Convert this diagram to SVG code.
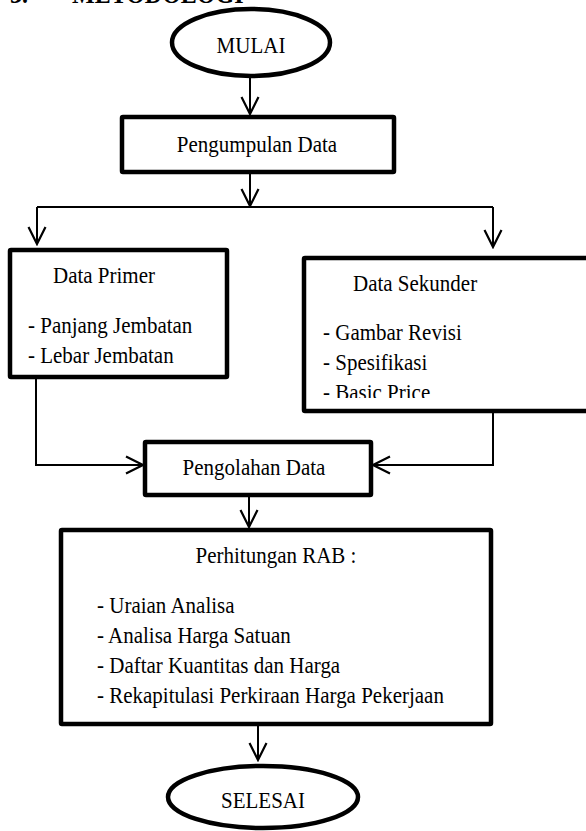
<svg xmlns="http://www.w3.org/2000/svg" width="586" height="831" viewBox="0 0 586 831">
<defs>
<style>
.bg{fill:#fff}
.node{fill:#fff;stroke:#000;stroke-width:4.5}
.c{text-anchor:middle}
.conn{fill:none;stroke:#000;stroke-width:2}
</style>
<marker id="arr" viewBox="-20 -11 22 22" markerWidth="22" markerHeight="22" refX="0" refY="0" markerUnits="userSpaceOnUse" orient="auto">
<path d="M-17,-8.5 L0,0 L-17,8.5" fill="none" stroke="#000" stroke-width="2.2"/>
</marker>
<clipPath id="clipSek"><rect x="304" y="258" width="300" height="140"/></clipPath>
</defs>
<rect class="bg" x="0" y="0" width="586" height="831"/>
<g font-family="Liberation Serif, Times New Roman, serif" font-size="24" font-weight="bold" fill="#000">
<text transform="translate(10,3) scale(1,1.12)">3.</text>
<text transform="translate(72,3) scale(1,1.12)">METODOLOGI</text>
</g>

<g id="connectors">
<line class="conn" x1="250" y1="78" x2="250" y2="114" marker-end="url(#arr)"/>
<line class="conn" x1="250" y1="174" x2="250" y2="206" marker-end="url(#arr)"/>
<line class="conn" x1="37" y1="207" x2="493" y2="207"/>
<line class="conn" x1="37" y1="207" x2="37" y2="244" marker-end="url(#arr)"/>
<line class="conn" x1="493" y1="207" x2="493" y2="247" marker-end="url(#arr)"/>
<polyline class="conn" points="36,379 36,465 143,465" marker-end="url(#arr)"/>
<polyline class="conn" points="493,413 493,465 373,465" marker-end="url(#arr)"/>
<line class="conn" x1="249" y1="497" x2="249" y2="527" marker-end="url(#arr)"/>
<line class="conn" x1="258" y1="726" x2="258" y2="760" marker-end="url(#arr)"/>
</g>

<g font-family="Liberation Serif, Times New Roman, serif" font-size="21" fill="#000">
<g id="mulai">
<ellipse class="node" cx="251" cy="42.5" rx="79" ry="33.5"/>
<text class="c" transform="translate(251,53) scale(1,1.12)">MULAI</text>
</g>

<g id="pengumpulan">
<rect class="node" x="122" y="117" width="272" height="55" rx="1"/>
<text class="c" transform="translate(257,152) scale(1,1.12)">Pengumpulan Data</text>
</g>

<g id="primer">
<rect class="node" x="10" y="250" width="217" height="127" rx="1"/>
<text transform="translate(53,283) scale(1,1.12)">Data Primer</text>
<text transform="translate(28,333) scale(1,1.12)">- Panjang Jembatan</text>
<text transform="translate(28,363) scale(1,1.12)">- Lebar Jembatan</text>
</g>

<g id="sekunder">
<rect class="node" x="304" y="258" width="300" height="153" rx="1"/>
<text transform="translate(353,291) scale(1,1.12)">Data Sekunder</text>
<text transform="translate(323,340) scale(1,1.12)">- Gambar Revisi</text>
<text transform="translate(323,370) scale(1,1.12)">- Spesifikasi</text>
<g clip-path="url(#clipSek)"><text transform="translate(323,400) scale(1,1.12)">- Basic Price</text></g>
</g>

<g id="pengolahan">
<rect class="node" x="145" y="442" width="226" height="53" rx="1"/>
<text class="c" transform="translate(254,475) scale(1,1.12)">Pengolahan Data</text>
</g>

<g id="rab">
<rect class="node" x="61" y="530" width="430" height="194" rx="1"/>
<text class="c" transform="translate(276,563) scale(1,1.12)">Perhitungan RAB :</text>
<text transform="translate(97,613) scale(1,1.12)">- Uraian Analisa</text>
<text transform="translate(97,643) scale(1,1.12)">- Analisa Harga Satuan</text>
<text transform="translate(97,673) scale(1,1.12)">- Daftar Kuantitas dan Harga</text>
<text transform="translate(97,703) scale(1,1.12)">- Rekapitulasi Perkiraan Harga Pekerjaan</text>
</g>

<g id="selesai">
<ellipse class="node" cx="263" cy="797" rx="95" ry="31"/>
<text class="c" transform="translate(263,808) scale(1,1.12)">SELESAI</text>
</g>
</g>
</svg>
